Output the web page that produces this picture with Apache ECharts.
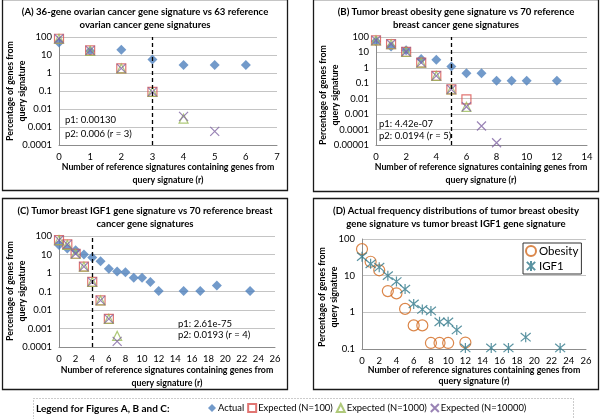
<!DOCTYPE html>
<html><head><meta charset="utf-8">
<script src="https://cdn.jsdelivr.net/npm/echarts@6/dist/echarts.min.js"></script>
<style>html,body{margin:0;padding:0;background:#fff}#c{width:600px;height:419px}</style>
</head><body><div id="c"></div>
<script>
// ---------- DATA ----------
// Panel A
var aActualX = [0,1,2,3,4,5,6];
var aActual  = [50, 16.7, 19.4, 5.56, 2.78, 2.78, 2.78];
var aExp100X = [0,1,2,3];
var aExp100  = [80, 18, 1.8, 0.09];
var aExp1000X = [0,1,2,3,4];
var aExp1000  = [80, 17, 1.8, 0.09, 0.0029];
var aExp10000X = [0,1,2,3,4,5];
var aExp10000  = [80, 18, 1.8, 0.09, 0.0039, 0.00057];
// Panel B
var bActualX = [0,1,2,3,4,5,6,7,8,9,10,12];
var bActual  = [53, 24, 14, 3.8, 3.3, 1.24, 0.44, 0.44, 0.146, 0.146, 0.146, 0.146];
var bExp100X = [0,1,2,3,4,5,6];
var bExp100  = [60, 35, 11, 2.2, 0.3, 0.04, 0.009];
var bExp1000X = [0,1,2,3,4,5,6];
var bExp1000  = [60, 34, 11, 2.2, 0.3, 0.04, 0.003];
var bExp10000X = [0,1,2,3,4,5,6,7,8];
var bExp10000  = [60, 35, 11, 2.2, 0.3, 0.04, 0.003, 0.00017, 0.000014];
// Panel C
var cActualX = [0,1,2,3,4,5,6,7,8,9,10,11,12,15,17,19,23];
var cActual  = [33, 21, 17, 10, 6.9, 4.3, 1.7, 1.2, 1.09, 0.55, 0.55, 0.33, 0.107, 0.107, 0.107, 0.21, 0.107];
var cExp100X = [0,1,2,3,4,5,6];
var cExp100  = [60, 35, 11, 2.2, 0.33, 0.033, 0.0033];
var cExp1000X = [0,1,2,3,4,5,6,7];
var cExp1000  = [60, 33, 11, 2.2, 0.33, 0.033, 0.0033, 0.0004];
var cExp10000X = [0,1,2,3,4,5,6,7];
var cExp10000  = [60, 35, 11, 2.2, 0.33, 0.033, 0.0033, 0.0002];
// Panel D
var dObesityX = [0,1,2,3,4,5,6,7,8,9,10,12];
var dObesity  = [53, 24, 14, 3.8, 3.3, 1.24, 0.44, 0.44, 0.146, 0.146, 0.146, 0.15];
var dIGF1X = [0,1,2,3,4,5,6,7,8,9,10,11,12,15,17,19,23];
var dIGF1  = [33, 21, 17, 10, 6.9, 4.3, 1.7, 1.2, 1.09, 0.55, 0.55, 0.33, 0.107, 0.107, 0.107, 0.21, 0.107];
// cut-off r for dashed line
var cutA = 3, cutB = 5, cutC = 4;
// tick labels
var yTicksA = ["100","10","1","0.1","0.01","0.001","0.0001"];
var yTicksB = ["100","10","1","0.1","0.01","0.001","0.0001","0.00001"];
var yTicksC = ["100","10","1","0.1","0.01","0.001","0.0001"];
var yTicksD = ["100","10","1","0.1"];
// texts
var titles = [
  ["(A) 36-gene ovarian cancer gene signature vs 63 reference","ovarian cancer gene signatures"],
  ["(B) Tumor breast obesity gene signature vs 70 reference","breast cancer gene signatures"],
  ["(C) Tumor breast IGF1 gene signature vs 70 reference breast","cancer gene signatures"],
  ["(D) Actual frequency distributions of tumor breast obesity","gene signature vs tumor breast IGF1 gene signature"]
];
var pTexts = [["p1: 0.00130","p2: 0.006 (r = 3)"],["p1: 4.42e-07","p2: 0.0194 (r = 5)"],["p1: 2.61e-75","p2: 0.0193 (r = 4)"]];
var yName = "Percentage of genes from\nquery signature";
var xName = ["Number of reference signatures containing genes from","query signature (r)"];

// ---------- CHART ----------
var FONT = "Lato";
function zip(xs, ys){ return xs.map(function(x,i){ return [x, ys[i]]; }); }
var XPATH = 'path://M0,0L10,10M10,0L0,10';
var STARPATH = 'path://M0,0L10,10M10,0L0,10M5,-1L5,11';
var COL = {actual:'#4F81BD', e100:'#D9534F', e1000:'#9BBB59', e10000:'#8064A2', obes:'#D2691E', igf:'#31788A'};

var grids = [
  {left:59, top:37, width:218, height:108},
  {left:376, top:37, width:211, height:108},
  {left:59, top:236, width:216, height:111},
  {left:362, top:239, width:224, height:110}
];
var xMax = [7,14,26,26], xInt = [1,2,2,2];
var yMin = [0.0001,0.00001,0.0001,0.1];
var yTicks = [yTicksA,yTicksB,yTicksC,yTicksD];

var xAxes = [], yAxes = [];
for (var i=0;i<4;i++){
  xAxes.push({gridIndex:i, type:'value', min:0, max:xMax[i], interval:xInt[i],
    axisLine:{show:true, onZero:false, lineStyle:{color:'#8C8C8C'}}, axisTick:{show:false},
    splitLine:{show:false},
    axisLabel:{fontFamily:FONT, fontSize:9.5, color:'#000', margin:7}});
  (function(ticks){
    yAxes.push({gridIndex:i, type:'log', logBase:10, min:yMin[i], max:100,
      axisLine:{show:true, lineStyle:{color:'#8C8C8C'}}, axisTick:{show:false},
      splitLine:{show:true, lineStyle:{color:'#C4C4C4'}},
      axisLabel:{fontFamily:FONT, fontSize:9.5, color:'#000', margin:7,
        formatter:function(v){ var k=Math.round(2-Math.log10(v)); return ticks[k]||''; }}});
  })(yTicks[i]);
}

function actualSeries(idx, xs, ys, cut){
  return {name:'Actual', type:'scatter', xAxisIndex:idx, yAxisIndex:idx, data:zip(xs,ys),
    symbol:'diamond', symbolSize:10, itemStyle:{color:COL.actual},
    markLine:{silent:true, symbol:'none', label:{show:false},
      lineStyle:{color:'#000', type:[4,3], width:1.3}, data:[{xAxis:cut}]}};
}
function hollow(name, idx, xs, ys, symbol, color, size){
  return {name:name, type:'scatter', xAxisIndex:idx, yAxisIndex:idx, data:zip(xs,ys),
    symbol:symbol, symbolSize:size,
    itemStyle:{color:'rgba(255,255,255,0)', borderColor:color, borderWidth:1.2}};
}
var series = [];
var sets = [
  [aActualX,aActual,aExp100X,aExp100,aExp1000X,aExp1000,aExp10000X,aExp10000,cutA],
  [bActualX,bActual,bExp100X,bExp100,bExp1000X,bExp1000,bExp10000X,bExp10000,cutB],
  [cActualX,cActual,cExp100X,cExp100,cExp1000X,cExp1000,cExp10000X,cExp10000,cutC]
];
sets.forEach(function(s, i){
  series.push(actualSeries(i, s[0], s[1], s[8]));
  series.push(hollow('Expected (N=100)', i, s[2], s[3], 'rect', COL.e100, 9));
  series.push(hollow('Expected (N=1000)', i, s[4], s[5], 'triangle', COL.e1000, 9));
  series.push(hollow('Expected (N=10000)', i, s[6], s[7], XPATH, COL.e10000, 9));
});
series.push(hollow('Obesity', 3, dObesityX, dObesity, 'circle', COL.obes, 11));
series.push(hollow('IGF1', 3, dIGF1X, dIGF1, STARPATH, COL.igf, 10));

// graphics: frames, titles, axis names, p-values, legend box
var frames = [[2,-1,285,191],[313,-1,285,192],[2,198,285,191],[313,198,285,191]];
var titlePos = [[145,12,25],[456,12,25],[145,211,224],[456,211,224]];
var xNamePos = [[168,167,180],[481,167,180],[167,370,383],[474,370,381]];
var yNamePos = [[16,91],[329,95],[16,291],[328,297]];
var pPos = [[65,120,134],[379,124,136],[178,324,335]];
var g = [];
frames.forEach(function(f){
  g.push({type:'rect', shape:{x:f[0]+0.5,y:f[1]+0.5,width:f[2],height:f[3]}, style:{fill:'none', stroke:'#1a1a1a', lineWidth:1.3}, z:-1});
});
titles.forEach(function(t,i){
  var p = titlePos[i];
  g.push({type:'text', style:{text:t[0], x:p[0], y:p[1], align:'center', verticalAlign:'middle', font:'bold 9.6px '+FONT, fill:'#000'}});
  g.push({type:'text', style:{text:t[1], x:p[0], y:p[2], align:'center', verticalAlign:'middle', font:'bold 9.6px '+FONT, fill:'#000'}});
});
xNamePos.forEach(function(p){
  g.push({type:'text', style:{text:xName[0], x:p[0], y:p[1], align:'center', verticalAlign:'middle', font:'bold 8.8px '+FONT, fill:'#000'}});
  g.push({type:'text', style:{text:xName[1], x:p[0], y:p[2], align:'center', verticalAlign:'middle', font:'bold 8.8px '+FONT, fill:'#000'}});
});
yNamePos.forEach(function(p){
  g.push({type:'text', x:p[0], y:p[1], rotation:Math.PI/2,
    style:{text:yName, x:0, y:0, align:'center', verticalAlign:'middle', lineHeight:12, font:'bold 8.8px '+FONT, fill:'#000'}});
});
pTexts.forEach(function(t,i){
  var p = pPos[i];
  g.push({type:'text', style:{text:t[0], x:p[0], y:p[1], align:'left', verticalAlign:'middle', font:'9.5px '+FONT, fill:'#000'}});
  g.push({type:'text', style:{text:t[1], x:p[0], y:p[2], align:'left', verticalAlign:'middle', font:'9.5px '+FONT, fill:'#000'}});
});
g.push({type:'rect', shape:{x:33.5,y:398.5,width:540,height:24}, style:{fill:'none', stroke:'#999', lineWidth:1, lineDash:[1,2]}});
g.push({type:'text', style:{text:'Legend for Figures A, B and C:', x:36, y:409, align:'left', verticalAlign:'middle', font:'bold 10px '+FONT, fill:'#000'}});

var chart = echarts.init(document.getElementById('c'), null, {renderer:'canvas'});
chart.setOption({
  animation:false,
  backgroundColor:'#fff',
  grid:grids, xAxis:xAxes, yAxis:yAxes, series:series, graphic:g,
  legend:[
    {data:['Actual','Expected (N=100)','Expected (N=1000)','Expected (N=10000)'],
     left:208, top:403, itemWidth:8, itemHeight:8, itemGap:3, padding:0,
     textStyle:{fontFamily:FONT, fontSize:9.4, color:'#000', padding:[0,0,0,-3]}},
    {data:['Obesity','IGF1'], orient:'vertical', left:523, top:243, itemWidth:10, itemHeight:10, itemGap:3,
     padding:[2,3,2,2], borderColor:'#333', borderWidth:1,
     textStyle:{fontFamily:FONT, fontSize:11.5, color:'#000', padding:[0,0,0,-2]}}
  ]
});
</script></body></html>
